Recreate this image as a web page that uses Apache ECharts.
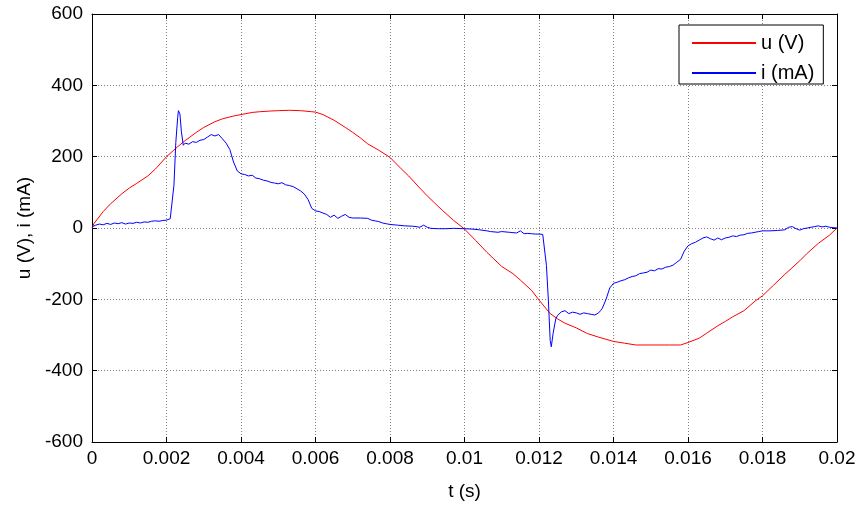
<!DOCTYPE html>
<html>
<head>
<meta charset="utf-8">
<script src="https://cdn.jsdelivr.net/npm/echarts@6/dist/echarts.min.js"></script>
<style>
html,body{margin:0;padding:0;background:#fff;}
#chart{width:861px;height:506px;}
</style>
</head>
<body>
<div id="chart"></div>
<script>
// x tick labels (s)
var xTicks = [0, 0.002, 0.004, 0.006, 0.008, 0.01, 0.012, 0.014, 0.016, 0.018, 0.02];
var yTicks = [-600, -400, -200, 0, 200, 400, 600];

// u (V): time (s)
var uTime = [0, 0.00005, 0.0003, 0.0005, 0.0008, 0.001, 0.0012, 0.0015, 0.0017, 0.002,
  0.0023, 0.0025, 0.0028, 0.003, 0.0033, 0.0035, 0.0038, 0.004, 0.0043, 0.0045,
  0.0048, 0.005, 0.0053, 0.0056, 0.0059, 0.006, 0.0062, 0.0065, 0.0068, 0.007,
  0.0072, 0.0074, 0.0077, 0.008, 0.0083, 0.0085, 0.0088, 0.009, 0.0092, 0.0094,
  0.0097, 0.01, 0.0103, 0.0106, 0.011, 0.0113, 0.0115, 0.0118, 0.012, 0.0123,
  0.0125, 0.0127, 0.013, 0.0133, 0.0136, 0.014, 0.0143, 0.0146, 0.015, 0.0155,
  0.0158, 0.016, 0.0163, 0.0165, 0.0168, 0.017, 0.0172, 0.0175, 0.0178, 0.018,
  0.0183, 0.0186, 0.019, 0.0192, 0.0195, 0.0198, 0.02];
// u (V): values
var uValues = [0, 12, 46, 68, 96, 112, 125, 146, 165, 200,
  228, 245, 268, 282, 298, 306, 314, 318, 324, 326,
  328, 329, 330, 329, 326, 325, 318, 302, 282, 268,
  253, 236, 218, 198, 166, 146, 112, 90, 70, 50,
  22, -3, -35, -68, -108, -128, -146, -175, -202, -240,
  -255, -267, -280, -296, -306, -318, -323, -328, -328, -328,
  -328, -321, -309, -295, -274, -262, -249, -232, -205, -190,
  -160, -130, -92, -71, -43, -20, 0];

// i (mA): time (s)
var iTime = [0, 0.0001, 0.0002, 0.0003, 0.0004, 0.0005, 0.0006, 0.0007, 0.0008, 0.0009,
  0.001, 0.0011, 0.0012, 0.0013, 0.0014, 0.0015, 0.0016, 0.0017, 0.0018, 0.0019,
  0.002, 0.0021, 0.00215, 0.0022, 0.00225, 0.0023, 0.00232, 0.00236, 0.0024, 0.00245,
  0.0025, 0.0026, 0.0027, 0.0028, 0.0029, 0.003, 0.0031, 0.0032, 0.0033, 0.0034,
  0.0035, 0.0036, 0.0037, 0.0038, 0.0039, 0.004, 0.0041, 0.0042, 0.0043, 0.0044,
  0.0045, 0.0046, 0.0047, 0.0048, 0.0049, 0.005, 0.0051, 0.0052, 0.0053, 0.0054,
  0.0055, 0.0056, 0.0057, 0.0058, 0.0059, 0.006, 0.0061, 0.0062, 0.0063, 0.0064,
  0.0065, 0.0066, 0.0067, 0.0068, 0.0069, 0.007, 0.0072, 0.0074, 0.0075, 0.0076,
  0.0077, 0.0078, 0.0079, 0.008, 0.0082, 0.0084, 0.0086, 0.0087, 0.0088, 0.0089,
  0.009, 0.0091, 0.0093, 0.0095, 0.0097, 0.01, 0.0102, 0.0104, 0.0106, 0.0107,
  0.0109, 0.011, 0.0112, 0.0114, 0.0115, 0.0116, 0.0117, 0.0118, 0.0119, 0.012,
  0.0121, 0.01215, 0.0122, 0.01225, 0.0123, 0.01233, 0.01238, 0.01245, 0.0125, 0.0126,
  0.0127, 0.0128, 0.0129, 0.013, 0.0131, 0.0132, 0.0133, 0.0134, 0.0135, 0.0136,
  0.01365, 0.0137, 0.0138, 0.0139, 0.014, 0.0141, 0.0142, 0.0143, 0.0144, 0.0145,
  0.0146, 0.0147, 0.0148, 0.0149, 0.015, 0.0151, 0.0152, 0.0153, 0.0154, 0.0155,
  0.0156, 0.0157, 0.0158, 0.0159, 0.016, 0.0161, 0.0162, 0.0163, 0.0164, 0.0165,
  0.0166, 0.0167, 0.0168, 0.0169, 0.017, 0.0171, 0.0172, 0.0173, 0.0174, 0.0175,
  0.0176, 0.0177, 0.0178, 0.0179, 0.018, 0.0182, 0.0184, 0.0186, 0.0187, 0.0188,
  0.0189, 0.019, 0.0191, 0.0192, 0.0194, 0.0195, 0.0196, 0.0197, 0.0198, 0.02];
// i (mA): values
var iValues = [3, 8, 11, 9, 13, 10, 14, 12, 15, 11,
  14, 13, 16, 14, 17, 16, 19, 20, 19, 21,
  22, 26, 30, 120, 240, 310, 329, 320, 270, 232,
  238, 235, 242, 240, 246, 248, 255, 262, 258, 262,
  250, 238, 220, 185, 160, 152, 150, 146, 148, 140,
  138, 134, 132, 128, 126, 124, 127, 121, 119, 116,
  110, 104, 95, 80, 55, 48, 46, 42, 38, 30,
  36, 27, 33, 38, 30, 28, 28, 27, 22, 20,
  18, 14, 12, 10, 8, 6, 5, 4, 2, 8,
  2, -1, -2, -2, -1, -2, -3, -5, -8, -10,
  -12, -10, -12, -14, -8, -16, -15, -16, -17, -17,
  -18, -22, -105, -200, -315, -333, -295, -255, -245, -235,
  -232, -240, -236, -238, -242, -238, -240, -242, -244, -238,
  -232, -225, -200, -168, -155, -152, -148, -145, -140, -136,
  -134, -128, -126, -124, -118, -120, -114, -115, -110, -108,
  -104, -96, -88, -65, -50, -44, -40, -34, -28, -25,
  -30, -34, -28, -33, -28, -26, -22, -24, -20, -19,
  -15, -14, -12, -10, -8, -8, -7, -5, 2, 4,
  -2, -6, -2, 0, 4, 6, 3, 5, 2, 0];

function pairs(t, v) { return t.map(function (x, k) { return [x, v[k]]; }); }
function fmtX(v) { return String(+v.toFixed(4)); }

var FONT = 'Liberation Sans';
var FS = 19;

var chart = echarts.init(document.getElementById('chart'), null, { renderer: 'canvas' });

function xAxisCfg(pos, showLabels) {
  return {
    type: 'value', position: pos, min: xTicks[0], max: xTicks[xTicks.length - 1],
    interval: xTicks[1] - xTicks[0],
    axisLine: { show: true, onZero: false, lineStyle: { color: '#000', width: 1 } },
    axisTick: { show: true, inside: true, length: 5, lineStyle: { color: '#000' } },
    axisLabel: { show: showLabels, formatter: fmtX, color: '#000', fontFamily: FONT, fontSize: FS, margin: 7 },
    splitLine: { show: showLabels, lineStyle: { color: '#808080', type: [1, 2], width: 1 } },
    name: showLabels ? 't (s)' : '', nameLocation: 'middle', nameGap: 40,
    nameTextStyle: { color: '#000', fontFamily: FONT, fontSize: FS }
  };
}
function yAxisCfg(pos, showLabels) {
  return {
    type: 'value', position: pos, min: yTicks[0], max: yTicks[yTicks.length - 1],
    interval: yTicks[1] - yTicks[0],
    axisLine: { show: true, onZero: false, lineStyle: { color: '#000', width: 1 } },
    axisTick: { show: true, inside: true, length: 5, lineStyle: { color: '#000' } },
    axisLabel: { show: showLabels, color: '#000', fontFamily: FONT, fontSize: FS, margin: 9 },
    splitLine: { show: showLabels, lineStyle: { color: '#808080', type: [1, 2], width: 1 } },
    name: showLabels ? 'u (V), i (mA)' : '', nameLocation: 'middle', nameGap: 46,
    nameTextStyle: { color: '#000', fontFamily: FONT, fontSize: FS }
  };
}

chart.setOption({
  animation: false,
  backgroundColor: '#fff',
  grid: { left: 92, right: 24, top: 14, bottom: 64, containLabel: false },
  xAxis: [xAxisCfg('bottom', true), xAxisCfg('top', false)],
  yAxis: [yAxisCfg('left', true), yAxisCfg('right', false)],
  legend: {
    left: 679, top: 25, orient: 'vertical',
    backgroundColor: '#fff', borderColor: '#000', borderWidth: 1,
    padding: [8, 9, 1, 13], itemGap: 10,
    itemWidth: 64, itemHeight: 2, icon: 'rect',
    textStyle: { color: '#000', fontFamily: FONT, fontSize: 20, lineHeight: 20 },
    data: ['u (V)', 'i (mA)']
  },
  series: [
    { name: 'u (V)', type: 'line', data: pairs(uTime, uValues), showSymbol: false, symbol: 'none',
      lineStyle: { color: '#ff0000', width: 1 }, itemStyle: { color: '#ff0000' } },
    { name: 'i (mA)', type: 'line', data: pairs(iTime, iValues), showSymbol: false, symbol: 'none',
      lineStyle: { color: '#0000ff', width: 1 }, itemStyle: { color: '#0000ff' } }
  ]
});
</script>
</body>
</html>
